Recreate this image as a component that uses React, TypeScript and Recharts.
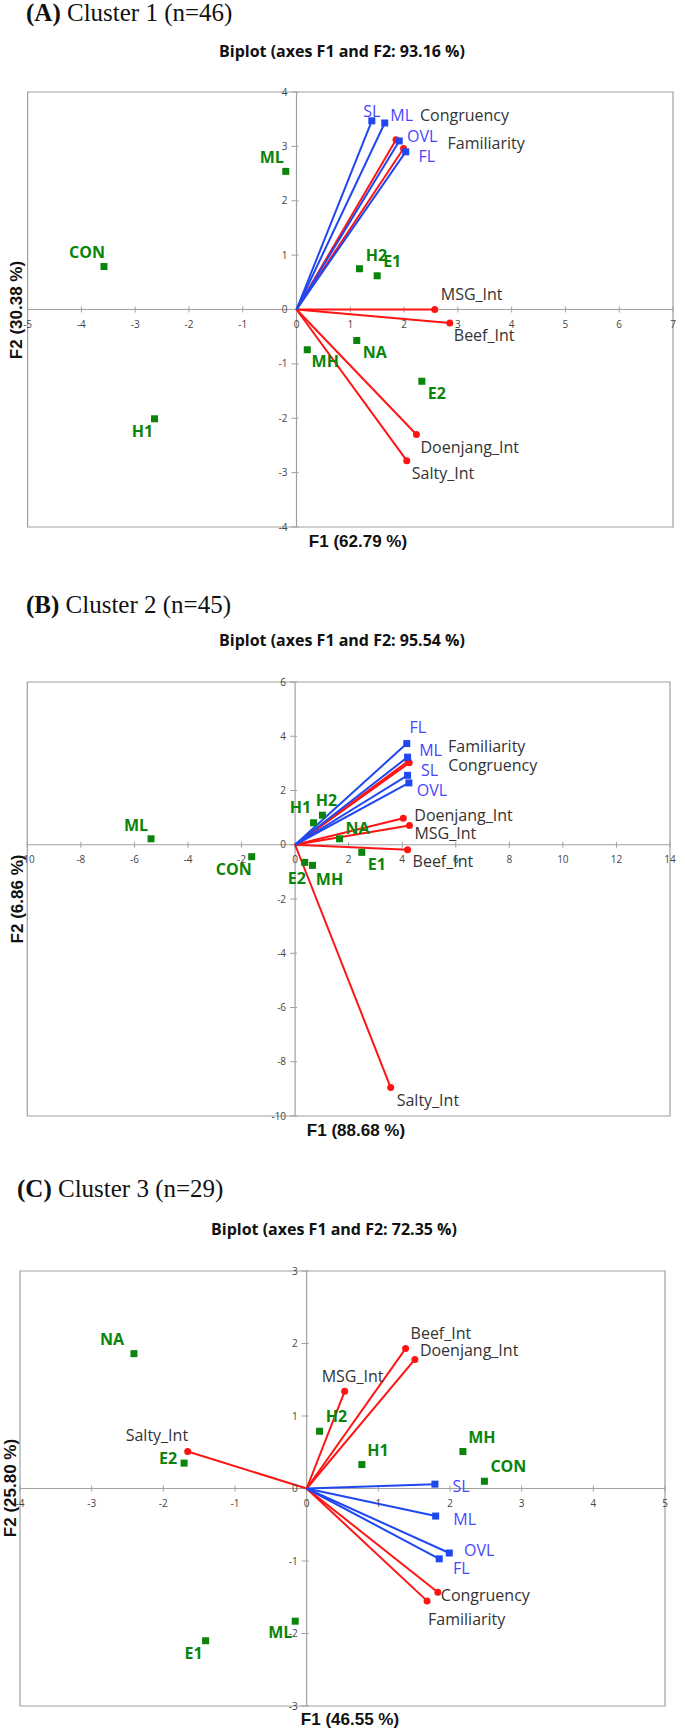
import { ScatterChart, Scatter, XAxis, YAxis, ReferenceLine, ReferenceArea } from 'recharts';

// ---- Panel A: Cluster 1 (n=46)
const A_obsNames = ['CON', 'ML', 'H1', 'H2', 'E1', 'E2', 'MH', 'NA'];
const A_obsF1 = [-3.58, -0.2, -2.64, 1.17, 1.5, 2.33, 0.2, 1.12];
const A_obsF2 = [0.79, 2.54, -2.01, 0.75, 0.62, -1.32, -0.74, -0.57];
const A_attrNames = ['SL', 'ML', 'OVL', 'FL'];
const A_attrF1 = [1.4, 1.64, 1.91, 2.03];
const A_attrF2 = [3.47, 3.43, 3.1, 2.9];
const A_varNames = ['Congruency', 'Familiarity', 'MSG_Int', 'Beef_Int', 'Doenjang_Int', 'Salty_Int'];
const A_varF1 = [1.85, 1.99, 2.57, 2.85, 2.23, 2.05];
const A_varF2 = [3.12, 2.96, 0.0, -0.25, -2.3, -2.78];
const A_xTicks = [-5, -4, -3, -2, -1, 0, 1, 2, 3, 4, 5, 6, 7];
const A_yTicks = [-4, -3, -2, -1, 0, 1, 2, 3, 4];

// ---- Panel B: Cluster 2 (n=45)
const B_obsNames = ['ML', 'CON', 'H1', 'H2', 'NA', 'E1', 'E2', 'MH'];
const B_obsF1 = [-5.38, -1.62, 0.69, 1.02, 1.66, 2.49, 0.36, 0.65];
const B_obsF2 = [0.22, -0.44, 0.81, 1.09, 0.22, -0.28, -0.65, -0.76];
const B_attrNames = ['FL', 'ML', 'SL', 'OVL'];
const B_attrF1 = [4.17, 4.2, 4.2, 4.25];
const B_attrF2 = [3.73, 3.23, 2.56, 2.28];
const B_varNames = ['Familiarity', 'Congruency', 'Doenjang_Int', 'MSG_Int', 'Beef_Int', 'Salty_Int'];
const B_varF1 = [4.22, 4.26, 4.04, 4.27, 4.2, 3.57];
const B_varF2 = [3.08, 3.02, 0.98, 0.71, -0.18, -8.95];
const B_xTicks = [-10, -8, -6, -4, -2, 0, 2, 4, 6, 8, 10, 12, 14];
const B_yTicks = [-10, -8, -6, -4, -2, 0, 2, 4, 6];

// ---- Panel C: Cluster 3 (n=29)
const C_obsNames = ['NA', 'H2', 'H1', 'MH', 'CON', 'E2', 'ML', 'E1'];
const C_obsF1 = [-2.41, 0.18, 0.77, 2.18, 2.48, -1.71, -0.16, -1.41];
const C_obsF2 = [1.86, 0.79, 0.33, 0.51, 0.1, 0.35, -1.83, -2.1];
const C_attrNames = ['SL', 'ML', 'OVL', 'FL'];
const C_attrF1 = [1.79, 1.8, 1.99, 1.85];
const C_attrF2 = [0.06, -0.38, -0.89, -0.97];
const C_varNames = ['Beef_Int', 'Doenjang_Int', 'MSG_Int', 'Salty_Int', 'Congruency', 'Familiarity'];
const C_varF1 = [1.38, 1.51, 0.53, -1.66, 1.83, 1.68];
const C_varF2 = [1.93, 1.78, 1.34, 0.51, -1.43, -1.55];
const C_xTicks = [-4, -3, -2, -1, 0, 1, 2, 3, 4, 5];
const C_yTicks = [-3, -2, -1, 0, 1, 2, 3];

// label placement (px offsets from the marker), kept apart from the values
type Off = Record<string, [number, number]>;
const A_obsOff: Off = { ML: [-14, -14], CON: [-17, -15], H2: [17, -14], E1: [15, -15], MH: [18, 11], NA: [18, 12], E2: [15, 12], H1: [-12, 12] };
const A_attrOff: Off = { SL: [0, -10], ML: [17, -8], OVL: [23, -5], FL: [21, 4] };
const A_varOff: Off = { Congruency: [24, -25], Familiarity: [44, -6], MSG_Int: [6, -16], Beef_Int: [4, 12], Doenjang_Int: [4, 12], Salty_Int: [5, 12] };
const B_obsOff: Off = { ML: [-15, -14], CON: [-18, 12], H1: [-13, -16], H2: [4, -15], NA: [18, -11], E1: [15, 12], E2: [-8, 16], MH: [17, 14] };
const B_attrOff: Off = { FL: [11, -17], ML: [23, -7], SL: [22, -5], OVL: [23, 7] };
const B_varOff: Off = { Familiarity: [40, -15], Congruency: [39, 2], Doenjang_Int: [11, -3], MSG_Int: [5, 8], Beef_Int: [5, 11], Salty_Int: [6, 12] };
const C_obsOff: Off = { NA: [-22, -15], H2: [17, -15], H1: [16, -15], MH: [19, -15], CON: [24, -15], E2: [-16, -5], ML: [-15, 11], E1: [-12, 12] };
const C_attrOff: Off = { SL: [26, 2], ML: [29, 3], OVL: [30, -3], FL: [22, 9] };
const C_varOff: Off = { Beef_Int: [5, -16], Doenjang_Int: [5, -9], MSG_Int: [-23, -15], Salty_Int: [-62, -17], Congruency: [3, 3], Familiarity: [1, 18] };

const GREEN = '#0a840a';
const BLUE = '#1f48f0';
const BLUE_TXT = '#4646ff';
const RED = '#ff1414';
const GRAY = '#a0a0a0';
const FONT = '"Open Sans", sans-serif';
const AXFONT = '"Liberation Sans", Arial, sans-serif';

const pts = (names: string[], f1: number[], f2: number[]) => names.map((name, i) => ({ name, x: f1[i], y: f2[i] }));

const obsShape = (off: Off) => (p: any) => {
  const { cx, cy, payload } = p;
  const [dx, dy] = off[payload.name] || [0, 0];
  return (
    <g>
      <rect x={cx - 3.5} y={cy - 3.5} width={7} height={7} fill={GREEN} />
      <text x={cx + dx} y={cy + dy} textAnchor="middle" dominantBaseline="central" fill={GREEN} fontSize={16} fontWeight={700} fontFamily={FONT}>{payload.name}</text>
    </g>
  );
};

const tipShape = (off: Off, kind: 'attr' | 'var') => (p: any) => {
  const { cx, cy, payload } = p;
  if (!payload.name) return <g />;
  const [dx, dy] = off[payload.name] || [0, 0];
  return (
    <g>
      {kind === 'attr'
        ? <rect x={cx - 3.5} y={cy - 3.5} width={7} height={7} fill={BLUE} />
        : <circle cx={cx} cy={cy} r={3.5} fill={RED} />}
      <text x={cx + dx} y={cy + dy} textAnchor={kind === 'attr' ? 'middle' : 'start'} dominantBaseline="central"
        fill={kind === 'attr' ? BLUE_TXT : '#333'} fontSize={16} fontFamily={FONT}>{payload.name}</text>
    </g>
  );
};

interface PanelCfg {
  box: { left: number; right: number; top: number; bottom: number };
  xDomain: [number, number]; yDomain: [number, number];
  xTicks: number[]; yTicks: number[];
  obs: { name: string; x: number; y: number }[]; obsOff: Off;
  attrs: { name: string; x: number; y: number }[]; attrOff: Off;
  vars: { name: string; x: number; y: number }[]; varOff: Off;
}

function Biplot({ cfg }: { cfg: PanelCfg }) {
  const { box, xDomain, yDomain } = cfg;
  const pad = 14;
  const w = box.right - box.left, h = box.bottom - box.top;
  const ux = (xDomain[1] - xDomain[0]) / w, uy = (yDomain[1] - yDomain[0]) / h;
  return (
    <div style={{ position: 'absolute', left: 0, top: box.top - pad }}>
      <ScatterChart width={685} height={h + 2 * pad} margin={{ top: pad, bottom: pad, left: box.left, right: 685 - box.right }}>
        <XAxis type="number" dataKey="x" domain={xDomain} hide allowDataOverflow />
        <YAxis type="number" dataKey="y" domain={yDomain} hide allowDataOverflow />
        <ReferenceArea x1={xDomain[0]} x2={xDomain[1]} y1={yDomain[0]} y2={yDomain[1]} fill="none" fillOpacity={0} stroke={GRAY} strokeWidth={1.2} ifOverflow="visible" />
        <ReferenceLine x={0} stroke={GRAY} strokeWidth={1.2} />
        <ReferenceLine y={0} stroke={GRAY} strokeWidth={1.2} />
        {cfg.xTicks.map((v) => (
          <ReferenceLine key={'xt' + v} ifOverflow="visible" stroke={GRAY} segment={[{ x: v, y: -3 * uy }, { x: v, y: 3 * uy }]}
            label={{ value: String(v), position: 'bottom', offset: 8, fill: '#444', fontSize: 10, fontFamily: FONT }} />
        ))}
        {cfg.yTicks.map((v) => (
          <ReferenceLine key={'yt' + v} ifOverflow="visible" stroke={GRAY} segment={[{ x: -5 * ux, y: v }, { x: 2 * ux, y: v }]}
            label={{ value: String(v), position: 'left', offset: 4, fill: '#444', fontSize: 10, fontFamily: FONT }} />
        ))}
        {cfg.vars.map((d) => (
          <Scatter key={'v' + d.name} data={[{ name: '', x: 0, y: 0 }, d]} line={{ stroke: RED, strokeWidth: 2 }} fill={RED}
            shape={tipShape(cfg.varOff, 'var')} isAnimationActive={false} />
        ))}
        {cfg.attrs.map((d) => (
          <Scatter key={'a' + d.name} data={[{ name: '', x: 0, y: 0 }, d]} line={{ stroke: BLUE, strokeWidth: 2 }} fill={BLUE}
            shape={tipShape(cfg.attrOff, 'attr')} isAnimationActive={false} />
        ))}
        <Scatter data={cfg.obs} fill={GREEN} shape={obsShape(cfg.obsOff)} isAnimationActive={false} />
      </ScatterChart>
    </div>
  );
}

const panelA: PanelCfg = {
  box: { left: 27.6, right: 673, top: 92, bottom: 527 }, xDomain: [-5, 7], yDomain: [-4, 4], xTicks: A_xTicks, yTicks: A_yTicks,
  obs: pts(A_obsNames, A_obsF1, A_obsF2), obsOff: A_obsOff,
  attrs: pts(A_attrNames, A_attrF1, A_attrF2), attrOff: A_attrOff,
  vars: pts(A_varNames, A_varF1, A_varF2), varOff: A_varOff,
};
const panelB: PanelCfg = {
  box: { left: 27.3, right: 670, top: 682, bottom: 1116 }, xDomain: [-10, 14], yDomain: [-10, 6], xTicks: B_xTicks, yTicks: B_yTicks,
  obs: pts(B_obsNames, B_obsF1, B_obsF2), obsOff: B_obsOff,
  attrs: pts(B_attrNames, B_attrF1, B_attrF2), attrOff: B_attrOff,
  vars: pts(B_varNames, B_varF1, B_varF2), varOff: B_varOff,
};
const panelC: PanelCfg = {
  box: { left: 20, right: 665, top: 1271, bottom: 1706 }, xDomain: [-4, 5], yDomain: [-3, 3], xTicks: C_xTicks, yTicks: C_yTicks,
  obs: pts(C_obsNames, C_obsF1, C_obsF2), obsOff: C_obsOff,
  attrs: pts(C_attrNames, C_attrF1, C_attrF2), attrOff: C_attrOff,
  vars: pts(C_varNames, C_varF1, C_varF2), varOff: C_varOff,
};

const headings = [
  { tag: '(A)', text: ' Cluster 1 (n=46)', x: 26, y: 21 },
  { tag: '(B)', text: ' Cluster 2 (n=45)', x: 26, y: 613 },
  { tag: '(C)', text: ' Cluster 3 (n=29)', x: 17, y: 1197 },
];
const titles = [
  { text: 'Biplot (axes F1 and F2: 93.16 %)', x: 342, y: 57 },
  { text: 'Biplot (axes F1 and F2: 95.54 %)', x: 342, y: 646 },
  { text: 'Biplot (axes F1 and F2: 72.35 %)', x: 334, y: 1235 },
];
const xTitles = [
  { text: 'F1 (62.79 %)', x: 358, y: 547 },
  { text: 'F1 (88.68 %)', x: 356, y: 1136 },
  { text: 'F1 (46.55 %)', x: 350, y: 1725 },
];
const yTitles = [
  { text: 'F2 (30.38 %)', x: 22, y: 310 },
  { text: 'F2 (6.86 %)', x: 23, y: 899 },
  { text: 'F2 (25.80 %)', x: 16, y: 1488 },
];

export default function App() {
  return (
    <div style={{ position: 'absolute', left: 0, top: 0, width: 685, height: 1730, background: '#fff' }}>
      <Biplot cfg={panelA} />
      <Biplot cfg={panelB} />
      <Biplot cfg={panelC} />
      <svg width={685} height={1730} style={{ position: 'absolute', left: 0, top: 0, pointerEvents: 'none' }}>
        {headings.map((d) => (
          <text key={d.tag} x={d.x} y={d.y} fontFamily='"Liberation Serif", serif' fontSize={25} fill="#111">
            <tspan fontWeight={700}>{d.tag}</tspan>{d.text}
          </text>
        ))}
        {titles.map((d) => (
          <text key={d.text} x={d.x} y={d.y} textAnchor="middle" fontFamily={FONT} fontWeight={700} fontSize={16} fill="#111">{d.text}</text>
        ))}
        {xTitles.map((d) => (
          <text key={d.text} x={d.x} y={d.y} textAnchor="middle" fontFamily={AXFONT} fontWeight={700} fontSize={17} fill="#111">{d.text}</text>
        ))}
        {yTitles.map((d) => (
          <text key={d.text} x={d.x} y={d.y} textAnchor="middle" transform={`rotate(-90 ${d.x} ${d.y})`} fontFamily={AXFONT} fontWeight={700} fontSize={17} fill="#111">{d.text}</text>
        ))}
      </svg>
    </div>
  );
}
